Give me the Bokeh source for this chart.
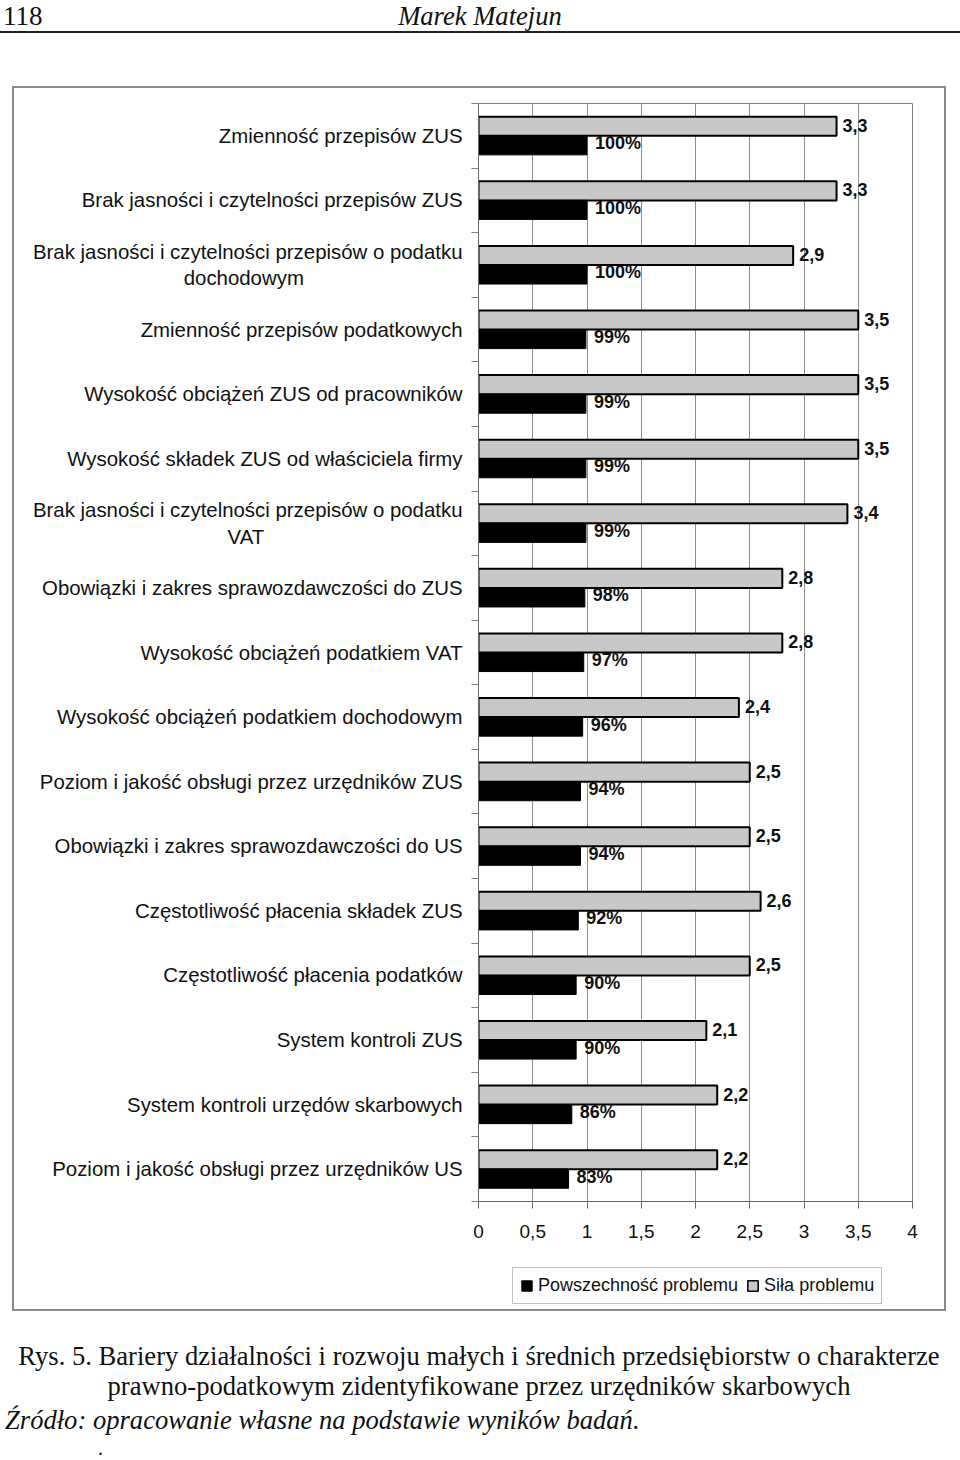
from bokeh.plotting import figure
from bokeh.layouts import column
from bokeh.models import (Range1d, FixedTicker, LabelSet, ColumnDataSource,
                          Legend, LegendItem, Div)
from bokeh.core.properties import value
from bokeh.embed import file_html
from bokeh.resources import INLINE

# ---------------- data ----------------
categories = [
    "Zmienność przepisów ZUS",
    "Brak jasności i czytelności przepisów ZUS",
    "Brak jasności i czytelności przepisów o podatku\ndochodowym",
    "Zmienność przepisów podatkowych",
    "Wysokość obciążeń ZUS od pracowników",
    "Wysokość składek ZUS od właściciela firmy",
    "Brak jasności i czytelności przepisów o podatku\nVAT",
    "Obowiązki i zakres sprawozdawczości do ZUS",
    "Wysokość obciążeń podatkiem VAT",
    "Wysokość obciążeń podatkiem dochodowym",
    "Poziom i jakość obsługi przez urzędników ZUS",
    "Obowiązki i zakres sprawozdawczości do US",
    "Częstotliwość płacenia składek ZUS",
    "Częstotliwość płacenia podatków",
    "System kontroli ZUS",
    "System kontroli urzędów skarbowych",
    "Poziom i jakość obsługi przez urzędników US",
]
powszechnosc_pct = [100, 100, 100, 99, 99, 99, 99, 98, 97, 96, 94, 94, 92, 90, 90, 86, 83]
sila = [3.3, 3.3, 2.9, 3.5, 3.5, 3.5, 3.4, 2.8, 2.8, 2.4, 2.5, 2.5, 2.6, 2.5, 2.1, 2.2, 2.2]
series_names = ["Powszechność problemu", "Siła problemu"]
x_ticks = [0, 0.5, 1, 1.5, 2, 2.5, 3, 3.5, 4]
x_tick_labels = ["0", "0,5", "1", "1,5", "2", "2,5", "3", "3,5", "4"]

header_page = "118"
header_author = "Marek Matejun"
caption_lines = [
    "Rys. 5. Bariery działalności i rozwoju małych i średnich przedsiębiorstw o charakterze",
    "prawno-podatkowym zidentyfikowane przez urzędników skarbowych",
]
source_line = "Źródło: opracowanie własne na podstawie wyników badań."

SANS = "Liberation Sans"
SERIF = "Liberation Serif"
INK = "#111111"
PAGE_W = 960
GRAY_FILL = "#c8c8c8"

# ---------------- header (page y 0..86) ----------------
head = Div(width=PAGE_W, height=86, margin=0, text=f"""
<div style="position:relative;width:960px;height:86px;font-family:'{SERIF}';color:{INK};">
  <span style="position:absolute;left:3px;top:0px;font-size:27px;line-height:32px;">{header_page}</span>
  <span style="position:absolute;left:0;top:0px;width:960px;text-align:center;font-size:26.6px;line-height:32px;font-style:italic;">{header_author}</span>
  <div style="position:absolute;left:0;top:31px;width:960px;height:2px;background:#222;"></div>
</div>""")

# ---------------- main chart (content page x 14..944, y 88..1309) ----------------
CW = 930
OX, OY = 14, 88                                 # page offset of the chart canvas
FL, FR, FT, FB = 478, 912, 103, 1201            # chart frame in page coordinates
CHART_BOTTOM = 1258                             # page y where the chart canvas ends
BOX_BOTTOM = 1309
n = len(categories)

ycent = [n - 0.5 - i for i in range(n)]
bar_h = 0.295

src = ColumnDataSource(dict(
    y_s=[c + bar_h / 2 for c in ycent],
    y_p=[c - bar_h / 2 for c in ycent],
    sila=sila,
    pw=[v / 100 for v in powszechnosc_pct],
    sila_lbl=[f"{v:.1f}".replace(".", ",") for v in sila],
    pw_lbl=[f"{v}%" for v in powszechnosc_pct],
))

p = figure(width=CW, height=CHART_BOTTOM - OY, output_backend="svg", toolbar_location=None,
           x_range=Range1d(0, 4), y_range=Range1d(0, n),
           min_border_left=FL - OX, min_border_right=CW - (FR - OX),
           min_border_top=FT - OY, min_border_bottom=CHART_BOTTOM - FB)
p.background_fill_color = "white"
p.border_fill_color = "white"
p.outline_line_color = "#808080"
p.outline_line_width = 1

p.ygrid.visible = False
p.xgrid.ticker = FixedTicker(ticks=x_ticks)
p.xgrid.grid_line_color = "#8c8c8c"
p.xgrid.grid_line_width = 1

p.xaxis.ticker = FixedTicker(ticks=x_ticks)
p.xaxis.major_label_overrides = {t: l for t, l in zip(x_ticks, x_tick_labels)}
p.xaxis.major_tick_out = 7
p.xaxis.major_tick_in = 0
p.xaxis.minor_tick_line_color = None
p.xaxis.axis_line_color = "#666666"
p.xaxis.major_tick_line_color = "#666666"
p.xaxis.major_label_text_font = SANS
p.xaxis.major_label_text_font_size = "19px"
p.xaxis.major_label_text_color = INK
p.xaxis.major_label_standoff = 16

# no-break spaces that centre the short second line under the first one
pad_second_line = {2: 28, 6: 35}
overrides = {}
for i, (c, lab) in enumerate(zip(ycent, categories)):
    if i in pad_second_line:
        a, b = lab.split("\n")
        lab = a + "\n" + b + "\u00a0" * pad_second_line[i]
    overrides[c] = lab

p.yaxis.ticker = FixedTicker(ticks=ycent, minor_ticks=list(range(n + 1)))
p.yaxis.major_label_overrides = overrides
p.yaxis.major_tick_line_color = None
p.yaxis.major_tick_out = 0
p.yaxis.major_tick_in = 0
p.yaxis.minor_tick_out = 7
p.yaxis.minor_tick_in = 0
p.yaxis.minor_tick_line_color = "#808080"
p.yaxis.axis_line_color = "#666666"
p.yaxis.major_label_text_font = SANS
p.yaxis.major_label_text_font_size = "20.4px"
p.yaxis.major_label_text_color = INK
p.yaxis.major_label_standoff = 9

p.hbar(y="y_s", left=0, right="sila", height=bar_h, source=src,
       fill_color=GRAY_FILL, line_color="black", line_width=2)
p.hbar(y="y_p", left=0, right="pw", height=bar_h, source=src,
       fill_color="black", line_color="black", line_width=1)

p.add_layout(LabelSet(x="sila", y="y_s", text="sila_lbl", source=src,
                      x_offset=6, y_offset=1, text_baseline="middle",
                      text_font=value(SANS), text_font_style="bold",
                      text_font_size="18px", text_color=INK))
p.add_layout(LabelSet(x="pw", y="y_p", text="pw_lbl", source=src,
                      x_offset=8, y_offset=2, text_baseline="middle",
                      text_font=value(SANS), text_font_style="bold",
                      text_font_size="18px", text_color=INK))

# ---------------- legend strip under the chart ----------------
leg_fig = figure(width=CW, height=BOX_BOTTOM - CHART_BOTTOM, output_backend="svg",
                 toolbar_location=None, x_range=Range1d(0, 4), y_range=Range1d(0, 1),
                 x_axis_type=None, y_axis_type=None,
                 min_border_left=FL - OX, min_border_right=CW - (FR - OX),
                 min_border_top=0, min_border_bottom=0)
leg_fig.grid.visible = False
leg_fig.outline_line_color = None
leg_fig.background_fill_color = "white"
leg_fig.border_fill_color = "white"
# legend swatches: one off-range entry per series so the legend has a style to draw
swatch = ColumnDataSource(dict(y=[-10], right=[0]))
lr_p = leg_fig.hbar(y="y", left=0, right="right", height=0.3, source=swatch,
                    fill_color="black", line_color="black", line_width=1)
lr_s = leg_fig.hbar(y="y", left=0, right="right", height=0.3, source=swatch,
                    fill_color=GRAY_FILL, line_color="black", line_width=1.5)
legend = Legend(items=[LegendItem(label=series_names[0], renderers=[lr_p]),
                       LegendItem(label=series_names[1], renderers=[lr_s])],
                orientation="horizontal", location=(512 - FL, BOX_BOTTOM - 1304),
                border_line_color="#808080", border_line_width=1,
                padding=7, spacing=8, label_standoff=5, margin=0,
                glyph_width=13, glyph_height=13,
                label_text_font=SANS, label_text_font_size="18px",
                label_text_color=INK, background_fill_color="white")
leg_fig.add_layout(legend)

box = column(p, leg_fig, spacing=0,
             styles={"margin-left": "12px", "border": "2px solid #8a8a8a",
                     "box-sizing": "content-box"})

# ---------------- caption (page y 1311..1460) ----------------
cap = Div(width=PAGE_W, height=149, margin=0, text=f"""
<div style="position:relative;width:960px;height:149px;font-family:'{SERIF}';color:{INK};font-size:26.6px;line-height:30px;">
  <div style="position:absolute;left:0;top:30px;width:958px;text-align:center;white-space:nowrap;">{caption_lines[0]}</div>
  <div style="position:absolute;left:0;top:60px;width:958px;text-align:center;white-space:nowrap;">{caption_lines[1]}</div>
  <div style="position:absolute;left:5px;top:94px;font-style:italic;white-space:nowrap;">{source_line}</div>
  <div style="position:absolute;left:98px;top:127px;font-size:20px;line-height:20px;">.</div>
</div>""")

page = column(head, box, cap, spacing=0)
open("out.html", "w").write(file_html(page, INLINE))
